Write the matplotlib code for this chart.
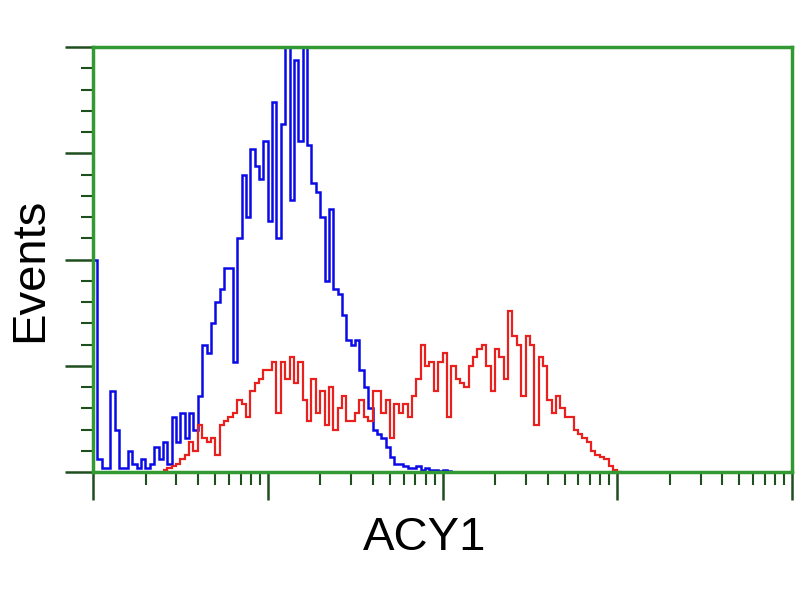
"""Flow cytometry histogram: ACY1 vs control."""
import matplotlib
matplotlib.use("Agg")
import matplotlib.pyplot as plt
import numpy as np
from matplotlib.ticker import FixedLocator, LogLocator, NullFormatter

# channel layout: log10 intensity, uniform bins
bin_width = 0.025

# control (blue) counts, starting at log10 = 0
blue_start = 0.0
blue_counts = [
    50, 3, 1, 1, 19, 10, 1, 1, 5, 2,
    1, 3, 1, 2, 6, 3, 7, 2, 13, 7,
    14, 8, 14, 10, 18, 30, 28, 35, 40, 43,
    48, 48, 26, 55, 70, 60, 76, 72, 69, 78,
    59, 87, 55, 82, 100, 64, 97, 78, 100, 77,
    68, 66, 60, 45, 62, 43, 42, 37, 31, 30,
    31, 24, 20, 15, 10, 9, 8, 6, 3.5, 2,
    2, 1.5, 1, 1, 1.5, 0.5, 1, 0.5, 0.5, 0.3,
    0.5, 0.2, 0,
]

# ACY1 (red) counts, starting at channel 16
red_start = 16 * bin_width
red_counts = [
    0.5, 1, 1.5, 2, 3, 4, 7, 5, 11, 8,
    7, 8, 4, 11, 12, 13, 14, 17, 16, 13,
    19, 21, 22, 24, 24, 26, 14, 26, 22, 27,
    21, 26, 17, 12, 22, 14, 19, 11, 20, 10,
    15, 18, 12, 12, 14, 17, 13, 12, 19, 19,
    14, 17, 8, 16, 14, 16, 13, 18, 22, 30,
    25, 26, 19, 26, 28, 13, 25, 22, 21, 20,
    25, 27, 29, 30, 25, 19, 29, 27, 22, 38,
    32, 30, 18, 32, 30, 11, 27, 25, 17, 14,
    18, 15, 13, 13, 10, 9, 8, 7, 5, 4,
    3.5, 3, 1.5, 0.5, 0,
]

x_label = "ACY1"
y_label = "Events"

frame_color = "#339933"
tick_color = "#1f4f1f"


def edges(start, n):
    return 10 ** (start + bin_width * np.arange(n + 1))


def main():
    plt.rcParams["font.family"] = ["Liberation Sans", "DejaVu Sans"]
    fig = plt.figure(figsize=(8, 6), dpi=100)
    ax = fig.add_axes([93 / 800, 1 - 472 / 600, (792 - 93) / 800, (472 - 47) / 600])

    ax.stairs(blue_counts, edges(blue_start, len(blue_counts)),
              color="#0a0ae6", lw=1.8, baseline=None)
    ax.stairs(red_counts, edges(red_start, len(red_counts)),
              color="#e8201e", lw=1.6, baseline=None)

    ax.set_xscale("log")
    ax.set_xlim(1, 1e4)
    ax.set_ylim(0, 100)

    ax.xaxis.set_major_locator(LogLocator(base=10, numticks=10))
    ax.xaxis.set_minor_locator(LogLocator(base=10, subs=np.arange(2, 10), numticks=50))
    ax.yaxis.set_major_locator(FixedLocator([0, 25, 50, 75, 100]))
    ax.yaxis.set_minor_locator(FixedLocator(np.arange(0, 101, 5)))
    ax.xaxis.set_major_formatter(NullFormatter())
    ax.xaxis.set_minor_formatter(NullFormatter())
    ax.yaxis.set_major_formatter(NullFormatter())

    ax.tick_params(which="major", length=20, width=1.8, color=tick_color, direction="out")
    ax.tick_params(which="minor", length=9, width=1.5, color=tick_color, direction="out")

    for sp in ax.spines.values():
        sp.set_color(frame_color)
        sp.set_linewidth(2.5)

    fig.text(30 / 800, 1 - 270 / 600, y_label, rotation=90, fontsize=34,
             ha="center", va="center")
    fig.text(425 / 800, 1 - 538 / 600, x_label, fontsize=34,
             ha="center", va="center")

    fig.savefig("out.png", dpi=100)


if __name__ == "__main__":
    main()
